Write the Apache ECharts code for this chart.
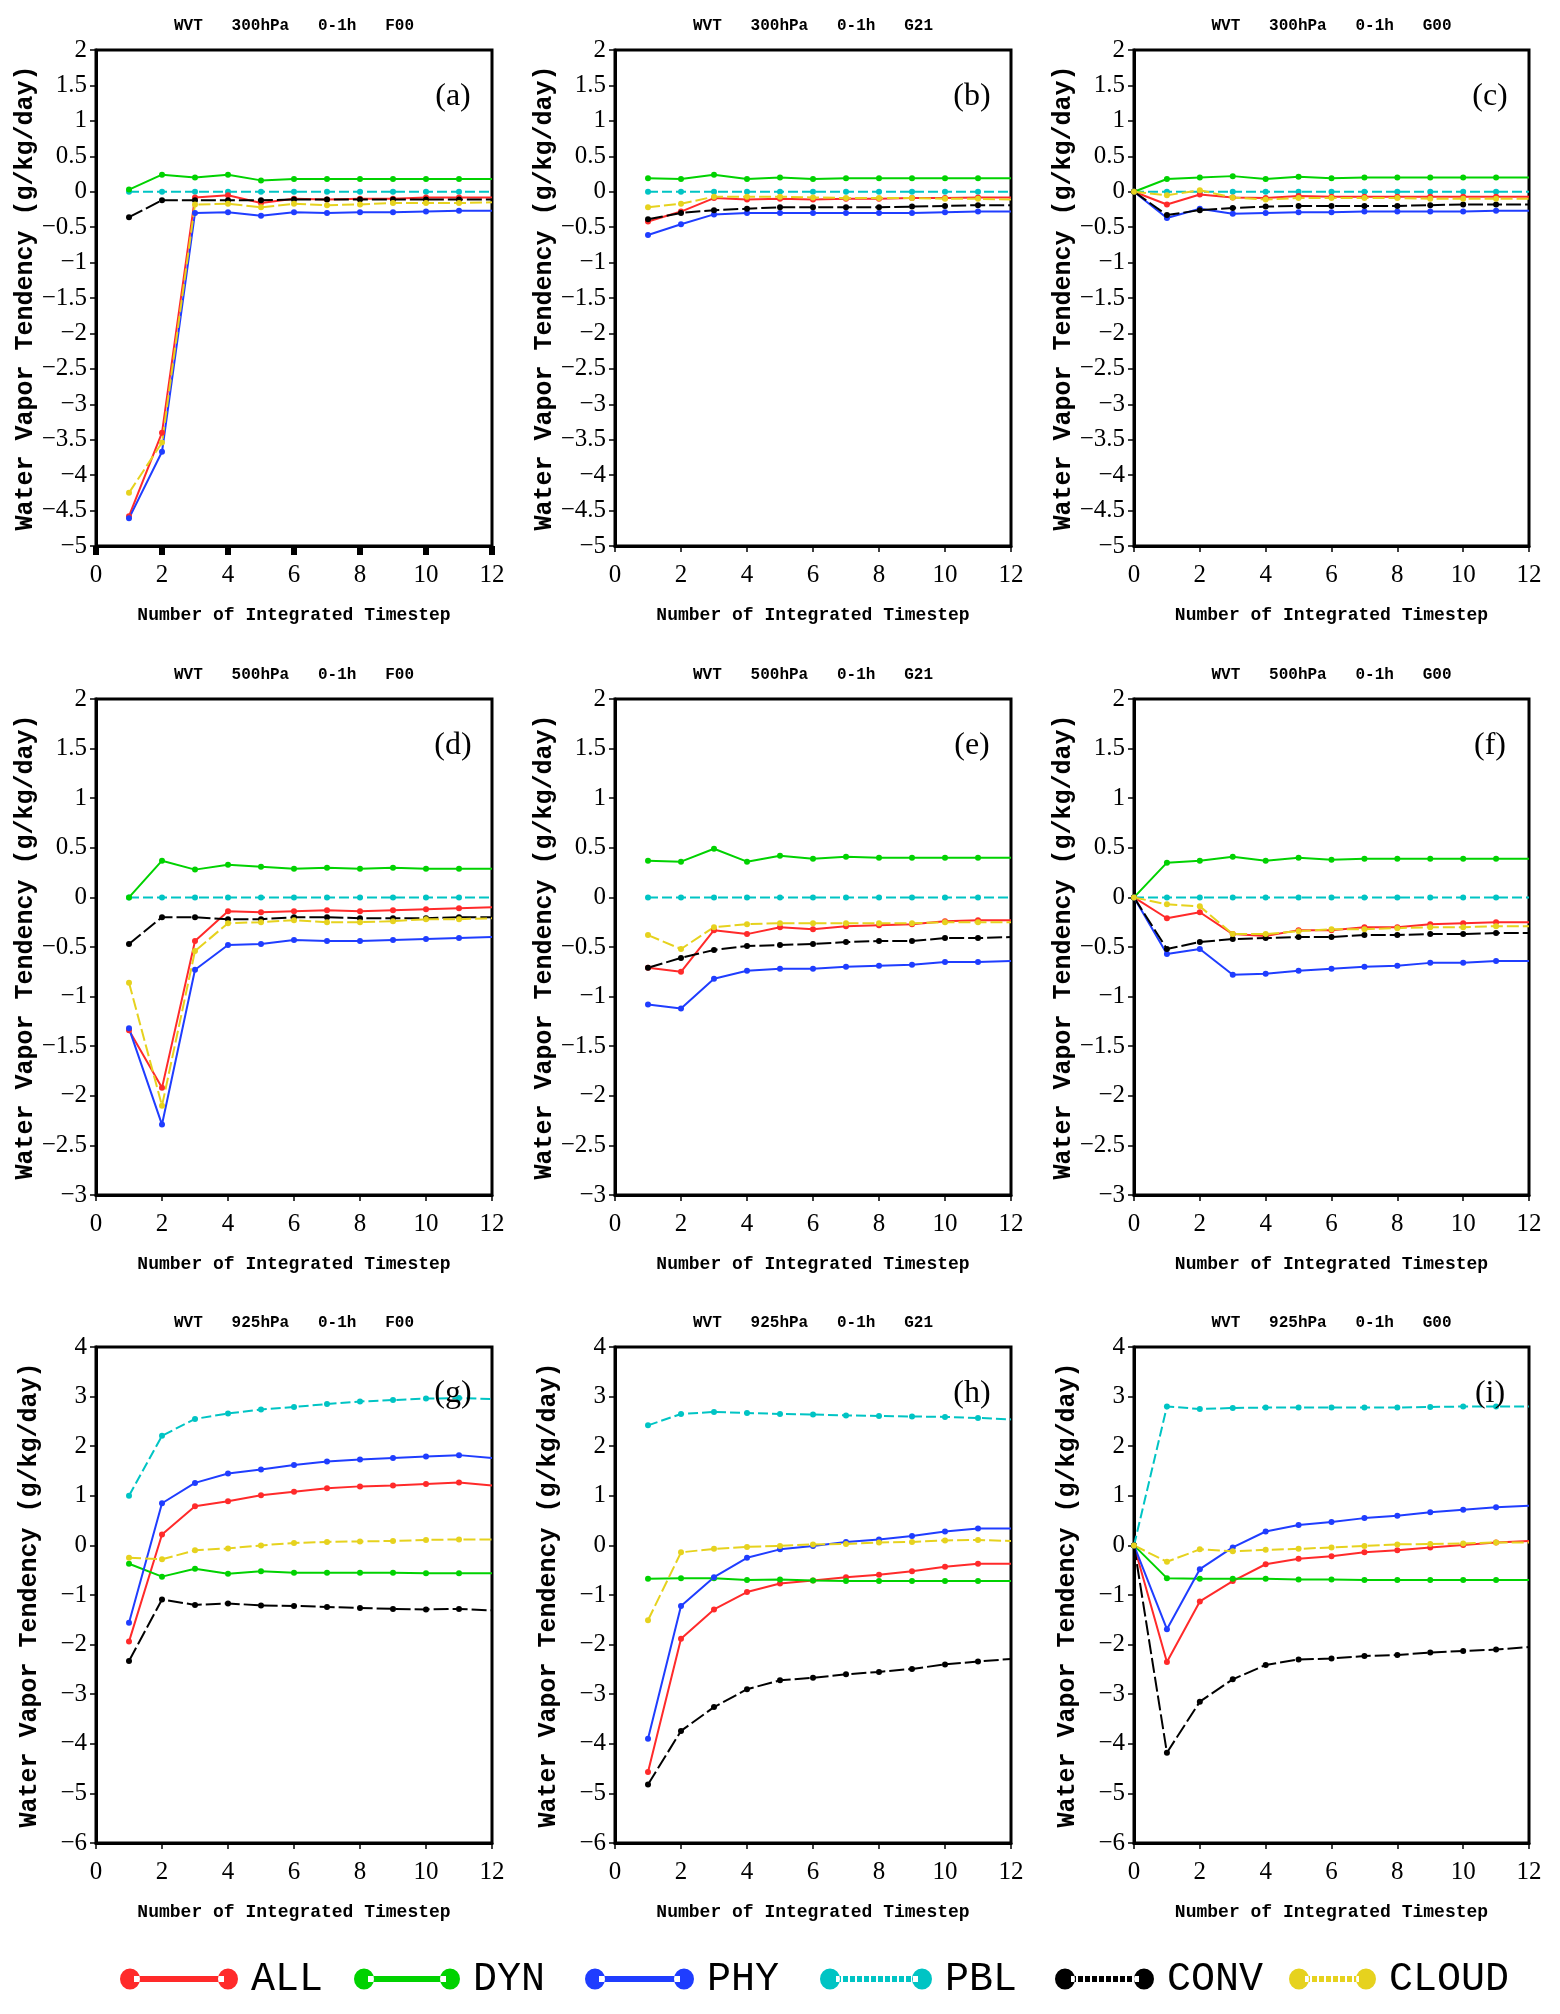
<!DOCTYPE html>
<html><head><meta charset="utf-8">
<script src="https://cdn.jsdelivr.net/npm/echarts@6/dist/echarts.min.js"></script>
<style>html,body{margin:0;padding:0;background:#fff}#c{width:1560px;height:2014px}</style>
</head><body><div id="c"></div>
<script>
// ---------- categories / x values ----------
const components = ['ALL', 'DYN', 'PHY', 'PBL', 'CONV', 'CLOUD'];
const levels = ['300hPa', '500hPa', '925hPa'];
const runs = ['F00', 'G21', 'G00'];
const panelLetters = ['a', 'b', 'c', 'd', 'e', 'f', 'g', 'h', 'i'];
const stepsFromOne = [1, 2, 3, 4, 5, 6, 7, 8, 9, 10, 11, 12];
const stepsFromZero = [0, 1, 2, 3, 4, 5, 6, 7, 8, 9, 10, 11, 12];
const xTickInterval = 2;
const yMin = [-5, -3, -6];
const yMax = [2, 2, 4];
const yInterval = [0.5, 0.5, 1];

// ---------- (a) 300hPa F00 ----------
const A_ALL = [-4.58, -3.40, -0.08, -0.05, -0.16, -0.10, -0.11, -0.10, -0.10, -0.08, -0.08, -0.08];
const A_DYN = [0.03, 0.24, 0.20, 0.24, 0.16, 0.18, 0.18, 0.18, 0.18, 0.18, 0.18, 0.18];
const A_PHY = [-4.61, -3.67, -0.30, -0.29, -0.34, -0.29, -0.30, -0.29, -0.29, -0.28, -0.27, -0.27];
const A_PBL = [0, 0, 0, 0, 0, 0, 0, 0, 0, 0, 0, 0];
const A_CONV = [-0.36, -0.12, -0.12, -0.12, -0.12, -0.11, -0.11, -0.11, -0.11, -0.11, -0.11, -0.11];
const A_CLOUD = [-4.25, -3.54, -0.18, -0.17, -0.22, -0.17, -0.19, -0.18, -0.16, -0.16, -0.16, -0.15];
// ---------- (b) 300hPa G21 ----------
const B_ALL = [-0.42, -0.28, -0.09, -0.11, -0.10, -0.11, -0.10, -0.10, -0.09, -0.09, -0.08, -0.08];
const B_DYN = [0.19, 0.18, 0.24, 0.18, 0.20, 0.18, 0.19, 0.19, 0.19, 0.19, 0.19, 0.19];
const B_PHY = [-0.61, -0.46, -0.32, -0.30, -0.30, -0.30, -0.30, -0.30, -0.30, -0.29, -0.28, -0.28];
const B_PBL = [0, 0, 0, 0, 0, 0, 0, 0, 0, 0, 0, 0];
const B_CONV = [-0.39, -0.30, -0.26, -0.24, -0.22, -0.22, -0.22, -0.22, -0.21, -0.20, -0.19, -0.19];
const B_CLOUD = [-0.22, -0.17, -0.07, -0.07, -0.07, -0.08, -0.09, -0.09, -0.09, -0.10, -0.10, -0.11];
// ---------- (c) 300hPa G00 ----------
const C_ALL = [0, -0.18, -0.04, -0.08, -0.09, -0.06, -0.07, -0.07, -0.07, -0.07, -0.07, -0.07, -0.07];
const C_DYN = [0, 0.18, 0.20, 0.22, 0.18, 0.21, 0.19, 0.20, 0.20, 0.20, 0.20, 0.20, 0.20];
const C_PHY = [0, -0.37, -0.24, -0.31, -0.30, -0.29, -0.29, -0.28, -0.28, -0.28, -0.28, -0.27, -0.27];
const C_PBL = [0, 0, 0, 0, 0, 0, 0, 0, 0, 0, 0, 0, 0];
const C_CONV = [0, -0.33, -0.26, -0.23, -0.21, -0.20, -0.20, -0.20, -0.20, -0.19, -0.18, -0.18, -0.18];
const C_CLOUD = [0, -0.05, 0.02, -0.08, -0.11, -0.09, -0.09, -0.09, -0.09, -0.10, -0.10, -0.10, -0.10];
// ---------- (d) 500hPa F00 ----------
const D_ALL = [-1.34, -1.92, -0.44, -0.14, -0.15, -0.14, -0.13, -0.14, -0.13, -0.12, -0.11, -0.10];
const D_DYN = [0.00, 0.37, 0.28, 0.33, 0.31, 0.29, 0.30, 0.29, 0.30, 0.29, 0.29, 0.29];
const D_PHY = [-1.32, -2.29, -0.73, -0.48, -0.47, -0.43, -0.44, -0.44, -0.43, -0.42, -0.41, -0.40];
const D_PBL = [0, 0, 0, 0, 0, 0, 0, 0, 0, 0, 0, 0];
const D_CONV = [-0.47, -0.20, -0.20, -0.22, -0.22, -0.20, -0.20, -0.21, -0.21, -0.21, -0.20, -0.20];
const D_CLOUD = [-0.86, -2.10, -0.54, -0.26, -0.25, -0.23, -0.25, -0.25, -0.24, -0.22, -0.22, -0.21];
// ---------- (e) 500hPa G21 ----------
const E_ALL = [-0.71, -0.75, -0.33, -0.37, -0.30, -0.32, -0.29, -0.28, -0.27, -0.24, -0.23, -0.23];
const E_DYN = [0.37, 0.36, 0.49, 0.36, 0.42, 0.39, 0.41, 0.40, 0.40, 0.40, 0.40, 0.40];
const E_PHY = [-1.08, -1.12, -0.82, -0.74, -0.72, -0.72, -0.70, -0.69, -0.68, -0.65, -0.65, -0.64];
const E_PBL = [0, 0, 0, 0, 0, 0, 0, 0, 0, 0, 0, 0];
const E_CONV = [-0.71, -0.61, -0.53, -0.49, -0.48, -0.47, -0.45, -0.44, -0.44, -0.41, -0.41, -0.40];
const E_CLOUD = [-0.38, -0.52, -0.30, -0.27, -0.26, -0.26, -0.26, -0.26, -0.26, -0.25, -0.25, -0.25];
// ---------- (f) 500hPa G00 ----------
const F_ALL = [0, -0.21, -0.15, -0.37, -0.39, -0.33, -0.33, -0.30, -0.30, -0.27, -0.26, -0.25, -0.25];
const F_DYN = [0, 0.35, 0.37, 0.41, 0.37, 0.40, 0.38, 0.39, 0.39, 0.39, 0.39, 0.39, 0.39];
const F_PHY = [0, -0.57, -0.52, -0.78, -0.77, -0.74, -0.72, -0.70, -0.69, -0.66, -0.66, -0.64, -0.64];
const F_PBL = [0, 0, 0, 0, 0, 0, 0, 0, 0, 0, 0, 0, 0];
const F_CONV = [0, -0.52, -0.45, -0.42, -0.41, -0.40, -0.40, -0.38, -0.38, -0.37, -0.37, -0.36, -0.36];
const F_CLOUD = [0, -0.07, -0.09, -0.37, -0.37, -0.34, -0.32, -0.32, -0.31, -0.30, -0.30, -0.29, -0.29];
// ---------- (g) 925hPa F00 ----------
const G_ALL = [-1.94, 0.22, 0.79, 0.89, 1.01, 1.08, 1.15, 1.19, 1.21, 1.24, 1.27, 1.21];
const G_DYN = [-0.37, -0.63, -0.47, -0.57, -0.52, -0.55, -0.55, -0.55, -0.55, -0.56, -0.56, -0.56];
const G_PHY = [-1.56, 0.85, 1.26, 1.45, 1.53, 1.62, 1.69, 1.73, 1.76, 1.79, 1.82, 1.76];
const G_PBL = [1.00, 2.21, 2.55, 2.66, 2.74, 2.79, 2.85, 2.90, 2.93, 2.96, 2.97, 2.95];
const G_CONV = [-2.33, -1.09, -1.20, -1.17, -1.21, -1.22, -1.24, -1.26, -1.28, -1.29, -1.28, -1.31];
const G_CLOUD = [-0.25, -0.28, -0.10, -0.06, 0.00, 0.05, 0.07, 0.08, 0.09, 0.11, 0.12, 0.12];
// ---------- (h) 925hPa G21 ----------
const H_ALL = [-4.57, -1.88, -1.29, -0.94, -0.77, -0.71, -0.64, -0.59, -0.52, -0.43, -0.37, -0.37];
const H_DYN = [-0.67, -0.66, -0.66, -0.70, -0.69, -0.71, -0.72, -0.72, -0.72, -0.72, -0.72, -0.72];
const H_PHY = [-3.90, -1.22, -0.64, -0.25, -0.08, -0.01, 0.07, 0.12, 0.19, 0.28, 0.34, 0.34];
const H_PBL = [2.42, 2.65, 2.69, 2.67, 2.65, 2.64, 2.62, 2.61, 2.60, 2.59, 2.57, 2.54];
const H_CONV = [-4.82, -3.74, -3.26, -2.90, -2.72, -2.67, -2.60, -2.55, -2.49, -2.40, -2.34, -2.29];
const H_CLOUD = [-1.51, -0.14, -0.07, -0.03, -0.01, 0.02, 0.03, 0.06, 0.07, 0.10, 0.11, 0.09];
// ---------- (i) 925hPa G00 ----------
const I_ALL = [0, -2.35, -1.13, -0.72, -0.38, -0.27, -0.22, -0.14, -0.10, -0.04, 0.01, 0.06, 0.09];
const I_DYN = [0, -0.66, -0.67, -0.67, -0.67, -0.69, -0.69, -0.70, -0.70, -0.70, -0.70, -0.70, -0.70];
const I_PHY = [0, -1.69, -0.48, -0.04, 0.28, 0.41, 0.47, 0.55, 0.60, 0.67, 0.72, 0.77, 0.80];
const I_PBL = [0, 2.80, 2.75, 2.77, 2.78, 2.78, 2.78, 2.78, 2.78, 2.79, 2.80, 2.80, 2.80];
const I_CONV = [0, -4.18, -3.15, -2.70, -2.41, -2.30, -2.28, -2.23, -2.21, -2.16, -2.13, -2.10, -2.05];
const I_CLOUD = [0, -0.33, -0.08, -0.12, -0.09, -0.07, -0.04, -0.01, 0.02, 0.03, 0.04, 0.06, 0.06];

const panelSeries = [
  [A_ALL, A_DYN, A_PHY, A_PBL, A_CONV, A_CLOUD],
  [B_ALL, B_DYN, B_PHY, B_PBL, B_CONV, B_CLOUD],
  [C_ALL, C_DYN, C_PHY, C_PBL, C_CONV, C_CLOUD],
  [D_ALL, D_DYN, D_PHY, D_PBL, D_CONV, D_CLOUD],
  [E_ALL, E_DYN, E_PHY, E_PBL, E_CONV, E_CLOUD],
  [F_ALL, F_DYN, F_PHY, F_PBL, F_CONV, F_CLOUD],
  [G_ALL, G_DYN, G_PHY, G_PBL, G_CONV, G_CLOUD],
  [H_ALL, H_DYN, H_PHY, H_PBL, H_CONV, H_CLOUD],
  [I_ALL, I_DYN, I_PHY, I_PBL, I_CONV, I_CLOUD]
];
const panelX = [stepsFromOne, stepsFromOne, stepsFromZero];

// ---------- styling ----------
const colors = { ALL: '#ff2a2a', DYN: '#00d200', PHY: '#1f3dff', PBL: '#00c4c4', CONV: '#000000', CLOUD: '#e6d21e' };
const dashes = { ALL: 'solid', DYN: 'solid', PHY: 'solid', PBL: [10, 4], CONV: [15, 4], CLOUD: [12, 4] };
const MONO = "'Liberation Mono', 'DejaVu Sans Mono', monospace";
const SERIF = "'Liberation Serif', 'DejaVu Serif', serif";
const colLayout = [{ left: 96, width: 396 }, { left: 615, width: 396 }, { left: 1134, width: 395 }];
const rowLayout = [{ top: 50, height: 496 }, { top: 699, height: 496 }, { top: 1347, height: 496 }];
const legendLeft = [120, 354, 585, 820, 1055, 1289];
const legendIconWidth = [118, 106, 109, 112, 99, 87];
const fmt = v => String(+(+v).toFixed(2)).replace('-', '\u2212');

const grid = [], xAxis = [], yAxis = [], series = [], title = [], graphic = [];
for (let r = 0; r < 3; r++) {
  for (let c = 0; c < 3; c++) {
    const k = r * 3 + c;
    const L = colLayout[c], R = rowLayout[r];
    grid.push({ left: L.left, top: R.top, width: L.width, height: R.height, show: true,
      borderColor: '#000', borderWidth: 3, backgroundColor: 'transparent', containLabel: false });
    xAxis.push({
      type: 'value', gridIndex: k, min: 0, max: 12, interval: xTickInterval,
      name: 'Number of Integrated Timestep', nameLocation: 'middle', nameGap: 60,
      nameTextStyle: { fontFamily: MONO, fontSize: 18, fontWeight: 'bold', color: '#000' },
      axisLine: { show: true, onZero: false, lineStyle: { color: '#000', width: 3 } },
      axisTick: { show: true, inside: false, length: (k === 0 ? 9 : 6), lineStyle: { color: '#000', width: (k === 0 ? 6 : 1.5) } },
      axisLabel: { margin: 17, fontFamily: SERIF, fontSize: 25, color: '#000', formatter: fmt, showMinLabel: true, showMaxLabel: true },
      splitLine: { show: false }
    });
    yAxis.push({
      type: 'value', gridIndex: k, min: yMin[r], max: yMax[r], interval: yInterval[r],
      name: 'Water Vapor Tendency (g/kg/day)', nameLocation: 'middle', nameGap: 54, nameRotate: 90,
      nameTextStyle: { fontFamily: MONO, fontSize: 25, fontWeight: 'bold', color: '#000' },
      axisLine: { show: true, onZero: false, lineStyle: { color: '#000', width: 3 } },
      axisTick: { show: true, inside: false, length: 6, lineStyle: { color: '#000', width: 1.5 } },
      axisLabel: { margin: 9, fontFamily: SERIF, fontSize: 25, color: '#000', formatter: fmt, showMinLabel: true, showMaxLabel: true },
      splitLine: { show: false }
    });
    const xs = panelX[c];
    components.forEach((name, j) => {
      const vals = panelSeries[k][j];
      series.push({
        type: 'line', name, xAxisIndex: k, yAxisIndex: k,
        data: xs.map((x, i) => (x === 12 ? { value: [x, vals[i]], symbol: 'none' } : [x, vals[i]])),
        symbol: 'circle', symbolSize: 6, color: colors[name],
        lineStyle: { width: 2, type: dashes[name], color: colors[name] },
        itemStyle: { color: colors[name] },
        animation: false, silent: true, clip: true, z: 3 + (j === 3 ? 0 : 1)
      });
    });
    title.push({
      text: 'WVT   ' + levels[r] + '   0-1h   ' + runs[c],
      left: L.left + L.width / 2, top: R.top - 32, textAlign: 'center', padding: 0,
      textStyle: { fontFamily: MONO, fontSize: 16, fontWeight: 'bold', color: '#000' }
    });
    graphic.push({
      type: 'text', x: L.left + L.width - 39, y: R.top + 47, z: 10,
      style: { text: '(' + panelLetters[k] + ')', fontFamily: SERIF, fontSize: 32, fill: '#000', align: 'center', verticalAlign: 'middle' }
    });
  }
}

// legend icons: two end dots joined by a bar (solid or dashed)
function legendIcon(w, dashed) {
  const r = 10, h = 21, cy = 10.5;
  let p = 'path://M0,' + cy + 'a' + r + ',' + cy + ' 0 1,0 ' + (2 * r) + ',0a' + r + ',' + cy + ' 0 1,0 ' + (-2 * r) + ',0z ';
  p += 'M' + (w - 2 * r) + ',' + cy + 'a' + r + ',' + cy + ' 0 1,0 ' + (2 * r) + ',0a' + r + ',' + cy + ' 0 1,0 ' + (-2 * r) + ',0z ';
  if (!dashed) {
    p += 'M' + (r + 4) + ',7.5h' + (w - 2 * r - 8) + 'v6h' + (-(w - 2 * r - 8)) + 'z';
  } else {
    for (let x = r + 6; x < w - r - 6; x += 7) p += 'M' + x + ',7.5h5v6h-5z ';
  }
  return p;
}

const legend = components.map((n, i) => ({
  left: legendLeft[i], top: 1982 - 23, padding: 0, itemWidth: legendIconWidth[i], itemHeight: 21, selectedMode: false,
  textStyle: { fontFamily: MONO, fontSize: 40, color: '#000', padding: [0, 0, 0, 8] },
  data: [{ name: n, icon: legendIcon(legendIconWidth[i], n === 'PBL' || n === 'CONV' || n === 'CLOUD') }]
}));

const option = {
  backgroundColor: '#ffffff',
  animation: false,
  title, grid, xAxis, yAxis, series, graphic, legend
};
const chart = echarts.init(document.getElementById('c'), null, { renderer: 'canvas', width: 1560, height: 2014 });
chart.setOption(option);
</script>
</body></html>
